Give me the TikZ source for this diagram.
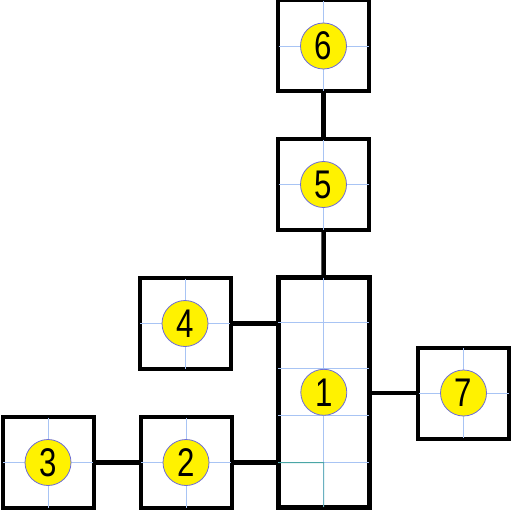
\documentclass[tikz,border=0pt]{standalone}
\usepackage{fontspec}
\setmainfont{Liberation Sans}[FakeStretch=0.78]
\usetikzlibrary{calc}
\definecolor{gridblue}{HTML}{A8C4F4}
\definecolor{discline}{HTML}{6C6CD8}
\definecolor{gridteal}{HTML}{4AA6A6}
\tikzset{
  room/.style={draw,line width=4pt,minimum width=91pt,minimum height=91pt,inner sep=0pt},
  hall/.style={room,line width=5pt,minimum height=229.5pt},
  gridline/.style={draw=gridblue,line width=0.8pt,shorten <=2.5pt,shorten >=2.5pt},
  disc/.style={circle,fill=yellow,draw=discline,line width=0.8pt,minimum size=46pt,inner sep=0pt,
    font=\fontsize{40}{40}\selectfont},
  link/.style={line width=4.5pt}
}
\begin{document}
\begin{tikzpicture}[x=1pt,y=-1pt]
      \useasboundingbox (0,0) rectangle (512,511);
      \foreach \n/\x/\y in {6/323.5/46, 5/323.5/184.5, 4/185/323.5, 7/463.5/393, 3/48/462.5, 2/186/462.5}
        \node[room] (\n) at (\x,\y) {};
      \node[hall] (1) at (323.8,392.3) {};
      % grid lines
      \foreach \n in {2,...,7} {
        \draw[gridline] (\n.north) -- (\n.south);
        \draw[gridline] (\n.west) -- (\n.east);
      }
      \draw[gridline] (1.north) -- (1.south);
      \foreach \k in {1,...,4}
        \draw[gridline] ($(1.north west)!\k/5!(1.south west)$) -- ($(1.north east)!\k/5!(1.south east)$);
      \draw[gridline,draw=gridteal] ($(1.north west)!4/5!(1.south west)$) -- ($(1.north)!4/5!(1.south)$) -- (1.south);
      % discs
      \foreach \n in {1,...,7}
        \node[disc] at (\n) {\n};
      \begin{scope}[link]
        \draw (6) to (5);
        \draw (5) to (1);
        \draw (4.east) to (4.east -| 1.west);
        \draw (2.east) to (2.east -| 1.west);
        \draw (3) to (2);
        \draw (7.west -| 1.east) to (7.west);
      \end{scope}
    \end{tikzpicture}
\end{document}
